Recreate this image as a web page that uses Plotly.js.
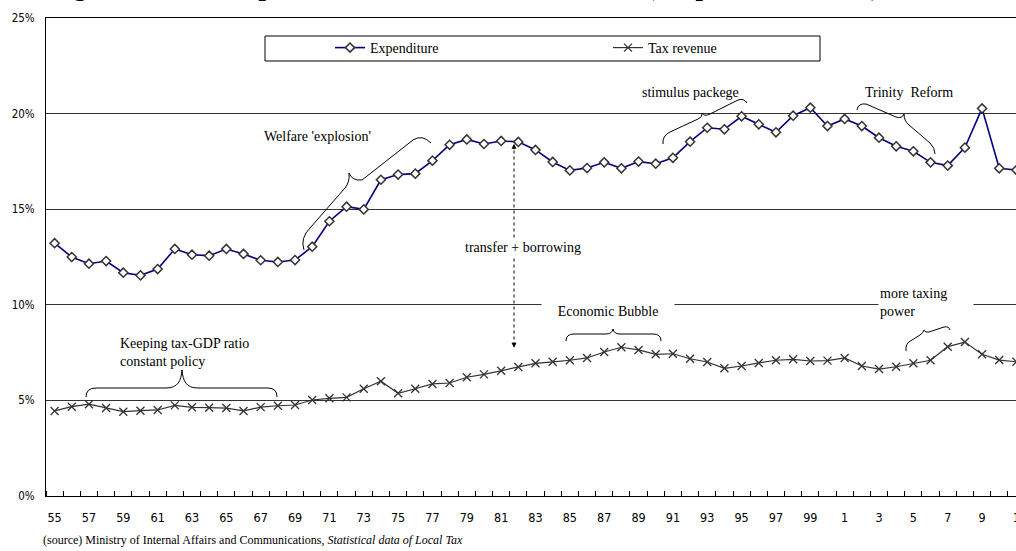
<!DOCTYPE html>
<html><head><meta charset="utf-8">
<script src="https://cdn.plot.ly/plotly-3.0.1.min.js"></script>
<style>
html,body{margin:0;padding:0;overflow:hidden;background:#fff;width:1016px;height:551px;position:relative}
#chart{position:absolute;left:0;top:-30px;width:1040px;height:581px}
</style>
</head><body><div id="chart"></div>
<script>
// ---- data ----
const years = [1955,1956,1957,1958,1959,1960,1961,1962,1963,1964,1965,1966,1967,1968,1969,1970,
  1971,1972,1973,1974,1975,1976,1977,1978,1979,1980,1981,1982,1983,1984,1985,1986,1987,1988,1989,1990,
  1991,1992,1993,1994,1995,1996,1997,1998,1999,2000,2001,2002,2003,2004,2005,2006,2007,2008,2009,2010,2011];
const expenditure = [13.22,12.50,12.15,12.29,11.68,11.54,11.87,12.92,12.62,12.57,12.92,12.66,12.33,12.24,12.34,13.04,
  14.37,15.13,14.99,16.54,16.81,16.86,17.54,18.37,18.65,18.41,18.57,18.52,18.10,17.47,17.03,17.15,17.45,17.14,17.49,17.38,
  17.69,18.53,19.26,19.18,19.86,19.44,19.02,19.89,20.31,19.35,19.72,19.35,18.74,18.29,18.03,17.45,17.28,18.22,20.27,17.14,17.05];
const taxRevenue = [4.45,4.67,4.80,4.60,4.41,4.46,4.50,4.74,4.64,4.62,4.60,4.45,4.65,4.72,4.76,5.02,
  5.11,5.16,5.61,6.00,5.37,5.61,5.86,5.91,6.21,6.36,6.55,6.75,6.94,7.02,7.10,7.22,7.53,7.78,7.64,7.41,
  7.44,7.18,7.01,6.68,6.80,6.96,7.10,7.15,7.06,7.08,7.22,6.80,6.64,6.76,6.94,7.10,7.81,8.05,7.41,7.11,7.02];
const tickYears = [1955,1957,1959,1961,1963,1965,1967,1969,1971,1973,1975,1977,1979,1981,1983,1985,1987,1989,
  1991,1993,1995,1997,1999,2001,2003,2005,2007,2009,2011];
const tickLabels = ['55','57','59','61','63','65','67','69','71','73','75','77','79','81','83','85','87','89',
  '91','93','95','97','99','1','3','5','7','9','1'];
const yTicks = [0,5,10,15,20,25];
const yTickLabels = ['0%','5%','10%','15%','20%','25%'];
const seriesNames = ['Expenditure','Tax revenue'];

// ---- geometry helpers (screen px -> data / paper) ----
const PL=46, PT=18, PW=979, PH=478, XMIN=1954.5, XMAX=2011.5, YMAX=25;
const fx = px => XMIN + (px-PL)*(XMAX-XMIN)/PW;
const fy = py => (PT+PH-py)*YMAX/PH;
const ppx = px => (px-PL)/PW;
const ppy = py => (PT+PH-py)/PH;
function toDataPath(s){
  const tk=s.trim().split(/\s+/); const out=[]; let isX=true;
  for(const t of tk){
    if(/^[A-Za-z]$/.test(t)){out.push(t); isX=true;}
    else {const v=parseFloat(t); out.push((isX?fx(v):fy(v)).toFixed(4)); isX=!isX;}
  }
  return out.join(' ');
}
const braces = [
  'M 304 250 Q 300 238 310 228 L 345 188 Q 350 182 349 173 Q 352 181 362 180 L 413 140 Q 422 134 431 143',
  'M 663 144 Q 662 136 670 132 L 698 119 Q 703 117 702 113 Q 704 117 710 114 L 738 100 Q 744 98 747 103',
  'M 857 110 Q 858 103 866 104 L 896 117 Q 902 119 904 114 Q 904 121 909 125 L 930 143 Q 935 148 935 154',
  'M 86 397 Q 86 388 96 388 L 166 388 C 178 388 181 381 182 370 C 183 381 186 388 198 388 L 268 388 Q 277 388 277 397',
  'M 566 341 Q 566 334 574 334 L 606 334 Q 612 334 613 329 Q 614 334 620 334 L 653 334 Q 661 334 661 341',
  'M 906 351 Q 905 343 912 340 L 920 335 Q 923 333 924 330 Q 925 333 929 332 L 944 327 Q 949 326 950 330'
];

const serif = 'Liberation Serif, Times New Roman, serif';
const narrow = 'Liberation Sans Narrow, Arial Narrow, DejaVu Sans Condensed, sans-serif';

const i82 = years.indexOf(1982);
const arrowX = 1982 - 0.25;
const arrowTop = expenditure[i82] - 0.1;
const arrowBot = taxRevenue[i82] + 1.0;

const traces = [
  {x: years, y: expenditure, name: seriesNames[0], type:'scatter', mode:'lines+markers',
   line:{color:'#000080', width:1.6},
   marker:{symbol:'diamond', size:7, color:'#ffffff', line:{color:'#333333', width:1.5}}},
  {x: years, y: taxRevenue, name: seriesNames[1], type:'scatter', mode:'lines+markers',
   line:{color:'#333333', width:1.2},
   marker:{symbol:'x-thin', size:8, color:'#333333', line:{color:'#333333', width:1.3}}}
];

const shapes = braces.map(p => ({type:'path', xref:'x', yref:'y', path: toDataPath(p), line:{color:'#000', width:1}}));
shapes.push({type:'line', xref:'x', yref:'y', x0:arrowX, x1:arrowX, y0:arrowTop-0.35, y1:arrowBot+0.35,
  line:{color:'#000', width:1, dash:'dot'}});
shapes.push({type:'rect', xref:'paper', yref:'paper', x0:ppx(265), x1:ppx(820), y0:ppy(61), y1:ppy(36),
  line:{color:'#000', width:1}, fillcolor:'#ffffff', layer:'below'});

const tf = {family: serif, size:14, color:'#000'};
const annotations = [
  {xref:'paper', yref:'paper', x:ppx(48), y:ppy(3), xanchor:'left', yanchor:'bottom', showarrow:false,
   text:'<b>Figure 1  Local Expenditure and Local Tax Revenue (Proportion to GDP)</b>', font:{family:serif, size:26.5, color:'#000'}},
  {xref:'x', yref:'y', x:fx(317), y:fy(136), text:"Welfare 'explosion'", showarrow:false, font:tf},
  {xref:'x', yref:'y', x:fx(690), y:fy(92), text:'stimulus packege', showarrow:false, font:tf},
  {xref:'x', yref:'y', x:fx(909), y:fy(92), text:'Trinity\u00a0 Reform', showarrow:false, font:tf},
  {xref:'x', yref:'y', x:fx(523), y:fy(247), text:'transfer + borrowing', showarrow:false, font:tf, bgcolor:'#ffffff'},
  {xref:'x', yref:'y', x:fx(608), y:fy(311), text:'Economic Bubble', showarrow:false, font:tf, bgcolor:'#ffffff', width:130},
  {xref:'x', yref:'y', x:fx(878), y:fy(302), xanchor:'left', align:'left', text:'more taxing<br>power', showarrow:false, font:tf, bgcolor:'#ffffff', width:92},
  {xref:'x', yref:'y', x:fx(118), y:fy(352), xanchor:'left', align:'left', text:'Keeping tax-GDP ratio<br>constant policy', showarrow:false, font:tf},
  {xref:'x', yref:'y', x:arrowX, y:arrowTop, ax:0, ay:7, text:'', showarrow:true, arrowhead:2, arrowsize:1, arrowwidth:1, arrowcolor:'#000', standoff:0},
  {xref:'x', yref:'y', x:arrowX, y:arrowBot, ax:0, ay:-7, text:'', showarrow:true, arrowhead:2, arrowsize:1, arrowwidth:1, arrowcolor:'#000', standoff:0},
  {xref:'paper', yref:'paper', x:ppx(41), y:ppy(540), xanchor:'left', yanchor:'middle', showarrow:false,
   text:'(source) Ministry of Internal Affairs and Communications, <i>Statistical data of Local Tax</i>', font:{family:serif, size:12, color:'#000'}}
];

const layout = {
  width:1040, height:581,
  margin:{l:46, r:15, t:48, b:55},
  paper_bgcolor:'#ffffff', plot_bgcolor:'#ffffff',
  showlegend:true,
  legend:{orientation:'h', x:ppx(330), y:ppy(32), xanchor:'left', yanchor:'top', bgcolor:'rgba(0,0,0,0)',
    borderwidth:0, font:{family:serif, size:14, color:'#000'}, entrywidth:233, entrywidthmode:'pixels'},
  xaxis:{type:'linear', range:[XMIN, XMAX], tickmode:'array', tickvals:tickYears, ticktext:tickLabels,
    ticks:'', showgrid:false, zeroline:false, showline:true, linecolor:'#000', linewidth:1, mirror:true,
    tickfont:{family:narrow, size:12.5, color:'#000'}, ticklabelstandoff:10,
    minor:{tickmode:'linear', tick0:XMIN, dtick:1, ticks:'inside', ticklen:5, tickcolor:'#000', tickwidth:1, showgrid:false}},
  yaxis:{range:[0, YMAX], tickmode:'array', tickvals:yTicks, ticktext:yTickLabels, ticks:'',
    showgrid:true, gridcolor:'#333333', gridwidth:1, zeroline:false, showline:true, linecolor:'#000', linewidth:1, mirror:true,
    tickfont:{family:narrow, size:11.5, color:'#000'}, ticklabelstandoff:8},
  shapes: shapes,
  annotations: annotations
};

Plotly.newPlot('chart', traces, layout, {displayModeBar:false, staticPlot:true});
</script>
</body></html>
